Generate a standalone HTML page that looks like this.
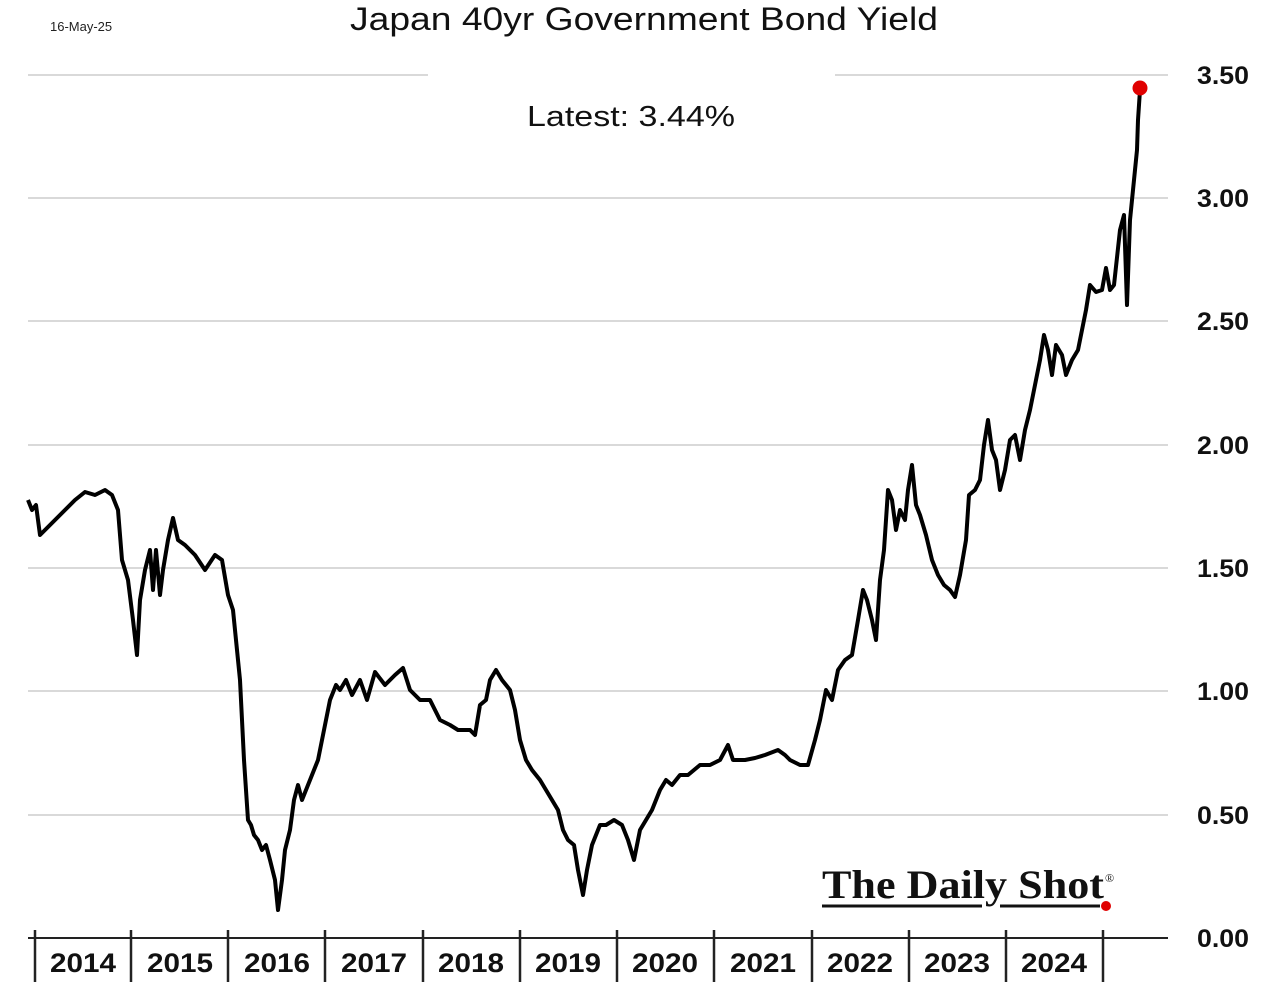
<!DOCTYPE html>
<html><head><meta charset="utf-8"><style>
html,body{margin:0;padding:0;background:#fff;}
svg{display:block;}
</style></head><body>
<svg width="1272" height="1008" viewBox="0 0 1272 1008" xmlns="http://www.w3.org/2000/svg">
<rect width="1272" height="1008" fill="#fff"/>
<g stroke="#d9d9d9" stroke-width="2">
<line x1="28" y1="75" x2="428" y2="75"/><line x1="835" y1="75" x2="1168" y2="75"/>
<line x1="28" y1="198" x2="1168" y2="198"/>
<line x1="28" y1="321" x2="1168" y2="321"/>
<line x1="28" y1="445" x2="1168" y2="445"/>
<line x1="28" y1="568" x2="1168" y2="568"/>
<line x1="28" y1="691" x2="1168" y2="691"/>
<line x1="28" y1="815" x2="1168" y2="815"/>
</g>
<line x1="28" y1="938" x2="1168" y2="938" stroke="#222" stroke-width="2"/>
<g stroke="#222" stroke-width="2.5">
<line x1="35" y1="930" x2="35" y2="982"/><line x1="131" y1="930" x2="131" y2="982"/>
<line x1="228" y1="930" x2="228" y2="982"/><line x1="325" y1="930" x2="325" y2="982"/>
<line x1="423" y1="930" x2="423" y2="982"/><line x1="520" y1="930" x2="520" y2="982"/>
<line x1="617" y1="930" x2="617" y2="982"/><line x1="714" y1="930" x2="714" y2="982"/>
<line x1="812" y1="930" x2="812" y2="982"/><line x1="909" y1="930" x2="909" y2="982"/>
<line x1="1006" y1="930" x2="1006" y2="982"/><line x1="1103" y1="930" x2="1103" y2="982"/>
</g>
<g font-family="Liberation Sans, sans-serif" font-weight="bold" font-size="27" fill="#111" text-anchor="middle">
<text x="83" y="972" textLength="66" lengthAdjust="spacingAndGlyphs">2014</text><text x="180" y="972" textLength="66" lengthAdjust="spacingAndGlyphs">2015</text><text x="277" y="972" textLength="66" lengthAdjust="spacingAndGlyphs">2016</text>
<text x="374" y="972" textLength="66" lengthAdjust="spacingAndGlyphs">2017</text><text x="471" y="972" textLength="66" lengthAdjust="spacingAndGlyphs">2018</text><text x="568" y="972" textLength="66" lengthAdjust="spacingAndGlyphs">2019</text>
<text x="665" y="972" textLength="66" lengthAdjust="spacingAndGlyphs">2020</text><text x="763" y="972" textLength="66" lengthAdjust="spacingAndGlyphs">2021</text><text x="860" y="972" textLength="66" lengthAdjust="spacingAndGlyphs">2022</text>
<text x="957" y="972" textLength="66" lengthAdjust="spacingAndGlyphs">2023</text><text x="1054" y="972" textLength="66" lengthAdjust="spacingAndGlyphs">2024</text>
</g>
<g font-family="Liberation Sans, sans-serif" font-weight="bold" font-size="25" fill="#111">
<text x="1197" y="84" textLength="52" lengthAdjust="spacingAndGlyphs">3.50</text><text x="1197" y="207" textLength="52" lengthAdjust="spacingAndGlyphs">3.00</text><text x="1197" y="330" textLength="52" lengthAdjust="spacingAndGlyphs">2.50</text>
<text x="1197" y="454" textLength="52" lengthAdjust="spacingAndGlyphs">2.00</text><text x="1197" y="577" textLength="52" lengthAdjust="spacingAndGlyphs">1.50</text><text x="1197" y="700" textLength="52" lengthAdjust="spacingAndGlyphs">1.00</text>
<text x="1197" y="824" textLength="52" lengthAdjust="spacingAndGlyphs">0.50</text><text x="1197" y="947" textLength="52" lengthAdjust="spacingAndGlyphs">0.00</text>
</g>
<text x="350" y="30" font-family="Liberation Sans, sans-serif" font-size="32" fill="#111" textLength="588" lengthAdjust="spacingAndGlyphs">Japan 40yr Government Bond Yield</text>
<text x="50" y="31" font-family="Liberation Sans, sans-serif" font-size="13" fill="#222">16-May-25</text>
<text x="527" y="126" font-family="Liberation Sans, sans-serif" font-size="29" fill="#111" textLength="208" lengthAdjust="spacingAndGlyphs">Latest:  3.44%</text>
<polyline fill="none" stroke="#000" stroke-width="4" stroke-linejoin="round" points="28,500 32,510 36,505 40,535 45,530 55,520 65,510 75,500 85,492 95,495 105,490 112,495 118,510 122,560 128,580 133,620 137,655 140,600 145,570 150,550 153,590 156,550 160,595 163,570 168,540 173,518 178,540 185,545 195,555 205,570 215,555 222,560 228,595 233,610 237,650 240,680 244,760 248,820 251,825 254,835 258,840 262,850 266,845 270,860 275,880 278,910 282,880 285,850 290,830 294,800 298,785 302,800 306,790 312,775 318,760 323,735 330,700 336,685 340,690 346,680 352,695 360,680 367,700 375,672 385,685 395,675 403,668 410,690 420,700 430,700 440,720 450,725 458,730 470,730 475,735 480,705 486,700 490,680 496,670 502,680 510,690 515,710 520,740 526,760 532,770 540,780 546,790 552,800 558,810 563,830 568,840 574,845 578,870 583,895 587,870 592,845 600,825 606,825 614,820 622,825 628,840 634,860 640,830 646,820 652,810 660,790 666,780 672,785 680,775 688,775 700,765 710,765 720,760 728,745 733,760 745,760 755,758 765,755 778,750 785,755 790,760 800,765 808,765 815,740 820,720 826,690 832,700 838,670 845,660 852,655 858,620 863,590 867,600 872,620 876,640 880,580 884,550 888,490 892,500 896,530 900,510 905,520 908,490 912,465 916,505 920,515 926,535 932,560 938,575 944,585 950,590 955,597 960,575 966,540 969,495 975,490 980,480 984,445 988,420 992,450 996,460 1000,490 1005,470 1010,440 1015,435 1020,460 1025,430 1030,410 1035,385 1040,360 1044,335 1048,350 1052,375 1056,345 1062,355 1066,375 1072,360 1078,350 1082,330 1086,310 1090,285 1096,292 1102,290 1106,268 1110,290 1114,285 1120,230 1124,215 1127,305 1130,220 1134,180 1137,150 1138,120 1140,90"/>
<circle cx="1140" cy="88" r="7.5" fill="#e00000"/>
<text x="822" y="898" font-family="Liberation Serif, serif" font-weight="bold" font-size="40" fill="#111" textLength="282" lengthAdjust="spacingAndGlyphs">The Daily Shot</text>
<text x="1105" y="882" font-family="Liberation Serif, serif" font-size="12" fill="#111">®</text>
<line x1="822" y1="906" x2="982" y2="906" stroke="#111" stroke-width="3"/>
<line x1="1000" y1="906" x2="1100" y2="906" stroke="#111" stroke-width="3"/>
<circle cx="1106" cy="906" r="5" fill="#e00000"/>
</svg>
</body></html>
